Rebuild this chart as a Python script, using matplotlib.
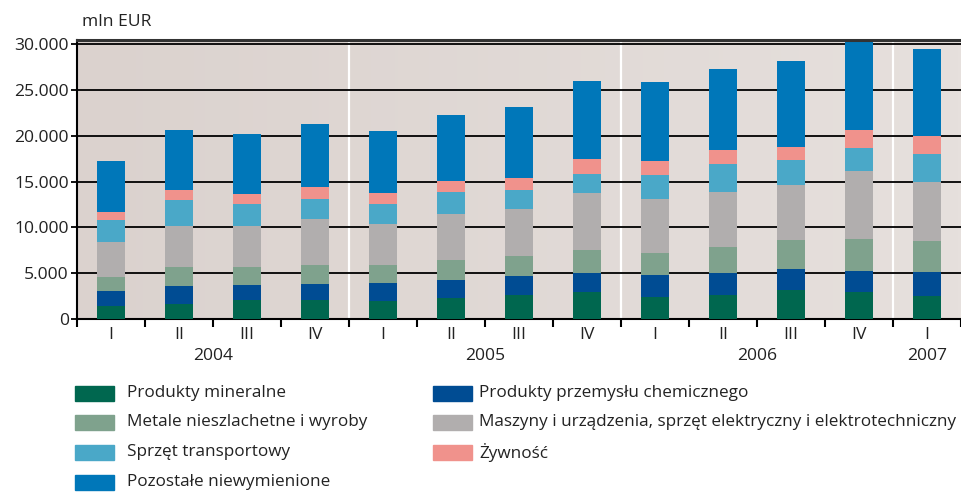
import matplotlib
matplotlib.use("Agg")
import matplotlib.pyplot as plt
import numpy as np
from matplotlib.patches import Rectangle
from matplotlib.colors import LinearSegmentedColormap

quarters = ["I", "II", "III", "IV", "I", "II", "III", "IV", "I", "II", "III", "IV", "I"]
years = ["2004", "2005", "2006", "2007"]

mineralne = [1460, 1640, 2070, 2070, 1970, 2290, 2620, 2950, 2400, 2620, 3170, 2950, 2510]
chemiczne = [1600, 1970, 1640, 1750, 1970, 1970, 2070, 2070, 2400, 2400, 2290, 2290, 2620]
metale = [1530, 2070, 1970, 2070, 1970, 2180, 2180, 2510, 2400, 2840, 3170, 3490, 3380]
maszyny = [3820, 4480, 4480, 5020, 4480, 5020, 5130, 6220, 5900, 6000, 6000, 7420, 6440]
transport = [2400, 2840, 2400, 2180, 2180, 2400, 2070, 2080, 2620, 3060, 2730, 2510, 3060]
zywnosc = [870, 1090, 1090, 1310, 1200, 1200, 1310, 1640, 1530, 1530, 1420, 1970, 1970]
pozostale = [5570, 6550, 6550, 6880, 6770, 7210, 7750, 8520, 8620, 8840, 9390, 9900, 9500]

series = [mineralne, chemiczne, metale, maszyny, transport, zywnosc, pozostale]
labels = ["Produkty mineralne", "Produkty przemysłu chemicznego",
          "Metale nieszlachetne i wyroby",
          "Maszyny i urządzenia, sprzęt elektryczny i elektrotechniczny",
          "Sprzęt transportowy", "Żywność", "Pozostałe niewymienione"]
colors = ["#00674f", "#004c93", "#7fa28d", "#b1aeae", "#4aa8c8", "#f0928c", "#0077b9"]
legend_order = [0, 1, 2, 3, 4, 5, 6]

plt.rcParams['font.family'] = ['Open Sans', 'DejaVu Sans']
txt_color = "#222222"
fs = 12.3

fig = plt.figure(figsize=(9.62, 4.93), dpi=100)
W, H = 962, 493
ax = fig.add_axes([77 / W, 1 - 319 / H, (961 - 77) / W, (319 - 39.5) / H])

n = len(quarters)
x = np.arange(n)
ymax = 30500

# background gradient
cmap = LinearSegmentedColormap.from_list("bg", ["#dbd2ce", "#e6e0dd"])
grad = np.linspace(0, 1, 256).reshape(1, -1)
ax.imshow(grad, extent=[-0.5, n - 0.5, 0, ymax], aspect="auto", cmap=cmap, zorder=0)

# year separators
for sep in [3.5, 7.5, 11.5]:
    ax.axvline(sep, color="white", lw=1.6, zorder=1)

# gridlines
for gy in range(5000, 30001, 5000):
    ax.axhline(gy, color="black", lw=1.3, zorder=2)

bottom = np.zeros(n)
for vals, col in zip(series, colors):
    ax.bar(x, vals, width=0.4, bottom=bottom, color=col, zorder=3, linewidth=0)
    bottom += np.array(vals)

ax.set_xlim(-0.5, n - 0.5)
ax.set_ylim(0, ymax)

ax.set_yticks(range(0, 30001, 5000))
ax.set_yticklabels(["0", "5.000", "10.000", "15.000", "20.000", "25.000", "30.000"],
                   fontsize=fs + 0.3, color=txt_color)
ax.tick_params(axis="y", direction="out", length=4, width=1.3, pad=2, color="black")

ax.set_xticks(np.arange(-0.5, n, 1.0))
ax.set_xticklabels([])
ax.tick_params(axis="x", which="major", direction="out", length=6, width=1.5, color="black")
ax.set_xticks(x, minor=True)
ax.set_xticklabels(quarters, minor=True, fontsize=fs + 0.3, color=txt_color)
ax.tick_params(axis="x", which="minor", length=0, pad=6)

ax.spines["right"].set_visible(False)
ax.spines["top"].set_linewidth(2.2)
ax.spines["top"].set_color("#333333")
ax.spines["left"].set_linewidth(1.5)
ax.spines["bottom"].set_linewidth(1.5)
ax.spines["top"].set_zorder(5)

year_pos = [1.5, 5.5, 9.5, 12]
trans = matplotlib.transforms.blended_transform_factory(ax.transData, fig.transFigure)
for yp, yl in zip(year_pos, years):
    ax.text(yp, 1 - 356 / H, yl, transform=trans, ha="center", va="center",
            fontsize=fs + 0.3, color=txt_color)

fig.text(82 / W, 1 - 22 / H, "mln EUR", ha="left", va="center", fontsize=fs + 0.3,
         color=txt_color)

# legend (manual)
col_x = [75, 433]
text_x = [127, 479]
row_y = [393, 422, 452, 482]
for i, k in enumerate(legend_order):
    r, c = divmod(i, 2)
    yc = row_y[r]
    fig.patches.append(Rectangle((col_x[c] / W, 1 - (yc + 7.5) / H), 39 / W, 15 / H,
                                 transform=fig.transFigure, color=colors[k], figure=fig))
    fig.text(text_x[c] / W, 1 - yc / H, labels[k], ha="left", va="center",
             fontsize=fs, color=txt_color)

fig.savefig("out.png", dpi=100)
